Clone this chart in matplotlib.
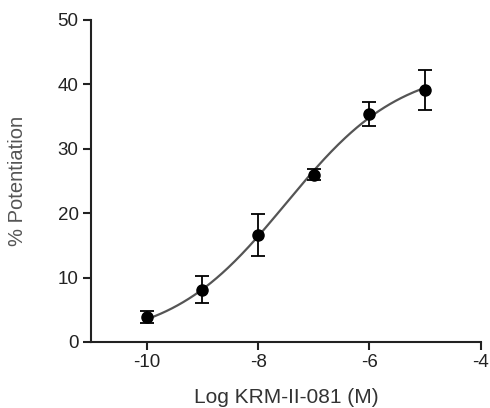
import numpy as np
import matplotlib.pyplot as plt

plt.rcParams['font.family'] = ['Liberation Sans', 'DejaVu Sans']
plt.rcParams['axes.unicode_minus'] = False

# Data
log_conc = [-10, -9, -8, -7, -6, -5]
potentiation = [3.9, 8.1, 16.6, 26.0, 35.4, 39.1]
sem = [0.9, 2.1, 3.2, 0.9, 1.9, 3.1]

# Fitted sigmoid parameters (estimated from the drawn curve)
bottom = 0.0
top = 43.0
log_ec50 = -7.5
hill = 0.42

fig = plt.figure(figsize=(4.9, 4.08), dpi=100)
ax = fig.add_axes([0.186, 0.162, 0.795, 0.789])

xfit = np.linspace(min(log_conc), max(log_conc), 200)
yfit = bottom + (top - bottom) / (1 + 10 ** ((log_ec50 - xfit) * hill))
ax.plot(xfit, yfit, color='#555555', linewidth=1.6, zorder=2)

ax.errorbar(log_conc, potentiation, yerr=sem, fmt='o', color='black',
            markersize=8, elinewidth=1.3, capsize=5, capthick=1.3, zorder=3)

ax.set_xlim(-11, -4)
ax.set_ylim(0, 50)
ax.set_xticks([-10, -8, -6, -4])
ax.set_yticks([0, 10, 20, 30, 40, 50])

for s in ['top', 'right']:
    ax.spines[s].set_visible(False)
for s in ['left', 'bottom']:
    ax.spines[s].set_linewidth(1.5)
    ax.spines[s].set_color('#222222')

ax.tick_params(axis='both', direction='out', length=6, width=1.5,
               labelsize=13.5, colors='#222222', pad=3)
ax.set_xlabel('Log KRM-II-081 (M)', fontsize=15, color='#333333', labelpad=12)
ax.set_ylabel('% Potentiation', fontsize=14.5, color='#555555', labelpad=22)

fig.savefig('out.png', dpi=100)
